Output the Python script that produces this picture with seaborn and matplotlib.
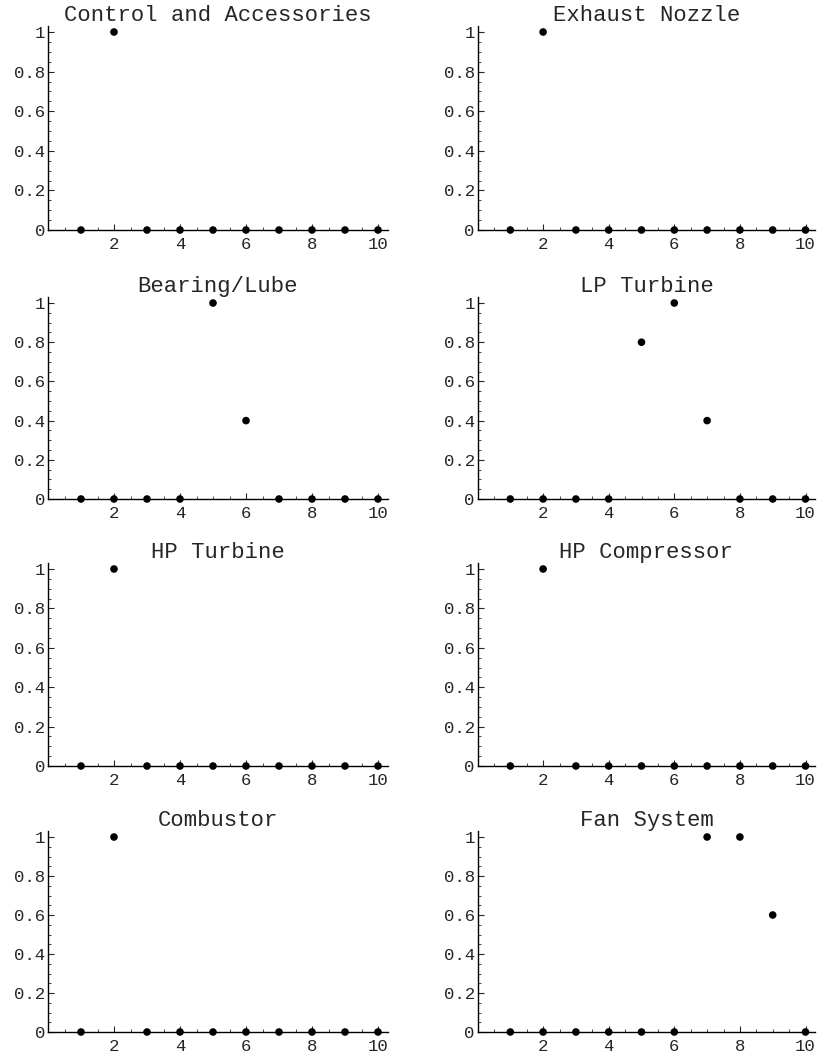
import pandas as pd
import seaborn as sns
import matplotlib.pyplot as plt
from matplotlib.ticker import AutoMinorLocator

# Data (index 1..10)
index = [1, 2, 3, 4, 5, 6, 7, 8, 9, 10]
control_accessories = [0, 1, 0, 0, 0, 0, 0, 0, 0, 0]
exhaust_nozzle = [0, 1, 0, 0, 0, 0, 0, 0, 0, 0]
bearing_lube = [0, 0, 0, 0, 1, 0.4, 0, 0, 0, 0]
lp_turbine = [0, 0, 0, 0, 0.8, 1, 0.4, 0, 0, 0]
hp_turbine = [0, 1, 0, 0, 0, 0, 0, 0, 0, 0]
hp_compressor = [0, 1, 0, 0, 0, 0, 0, 0, 0, 0]
combustor = [0, 1, 0, 0, 0, 0, 0, 0, 0, 0]
fan_system = [0, 0, 0, 0, 0, 0, 1, 1, 0.6, 0]

panels = [
    ("Control and Accessories", control_accessories),
    ("Exhaust Nozzle", exhaust_nozzle),
    ("Bearing/Lube", bearing_lube),
    ("LP Turbine", lp_turbine),
    ("HP Turbine", hp_turbine),
    ("HP Compressor", hp_compressor),
    ("Combustor", combustor),
    ("Fan System", fan_system),
]

sns.set_style("ticks")
plt.rcParams['font.family'] = ['Liberation Mono', 'DejaVu Sans']

W, H = 823, 1057
fig = plt.figure(figsize=(W / 100, H / 100), dpi=100)

# pixel geometry of each panel (x of y-axis, px per unit, y of 0, y of 1)
col_x0 = [48, 477.5]
col_ppu = [33.0, 32.8]
row_y0 = [230, 499, 766, 1032]
row_y1 = [32, 303, 569, 837]
xmax, ymax = 10.3, 1.03

for i, (title, vals) in enumerate(panels):
    r, c = divmod(i, 2)
    left = col_x0[c] / W
    width = col_ppu[c] * xmax / W
    ppy = row_y0[r] - row_y1[r]
    bottom = 1 - row_y0[r] / H
    height = ppy * ymax / H
    ax = fig.add_axes([left, bottom, width, height])

    df = pd.DataFrame({"x": index, "y": vals})
    sns.scatterplot(data=df, x="x", y="y", ax=ax, color="black",
                    s=30, edgecolor="none", clip_on=False, zorder=3)

    ax.set_xlim(0, xmax)
    ax.set_ylim(0, ymax)
    ax.set_xticks([2, 4, 6, 8, 10])
    ax.set_yticks([0, 0.2, 0.4, 0.6, 0.8, 1])
    ax.set_yticklabels(["0", "0.2", "0.4", "0.6", "0.8", "1"])
    ax.xaxis.set_minor_locator(AutoMinorLocator(4))
    ax.yaxis.set_minor_locator(AutoMinorLocator(4))
    ax.tick_params(axis="both", which="major", direction="in", length=4,
                   width=0.8, labelsize=12.5)
    ax.tick_params(axis="both", which="minor", direction="in", length=2,
                   width=0.6)
    ax.tick_params(axis="x", which="major", pad=5)
    ax.tick_params(axis="y", which="major", pad=2)
    for side in ["top", "right"]:
        ax.spines[side].set_visible(False)
    for side in ["left", "bottom"]:
        ax.spines[side].set_linewidth(1.0)
        ax.spines[side].set_color("black")
    ax.set_xlabel("")
    ax.set_ylabel("")
    ax.set_title(title, fontsize=16, pad=4)

fig.savefig("out.png", dpi=100, facecolor="white")
